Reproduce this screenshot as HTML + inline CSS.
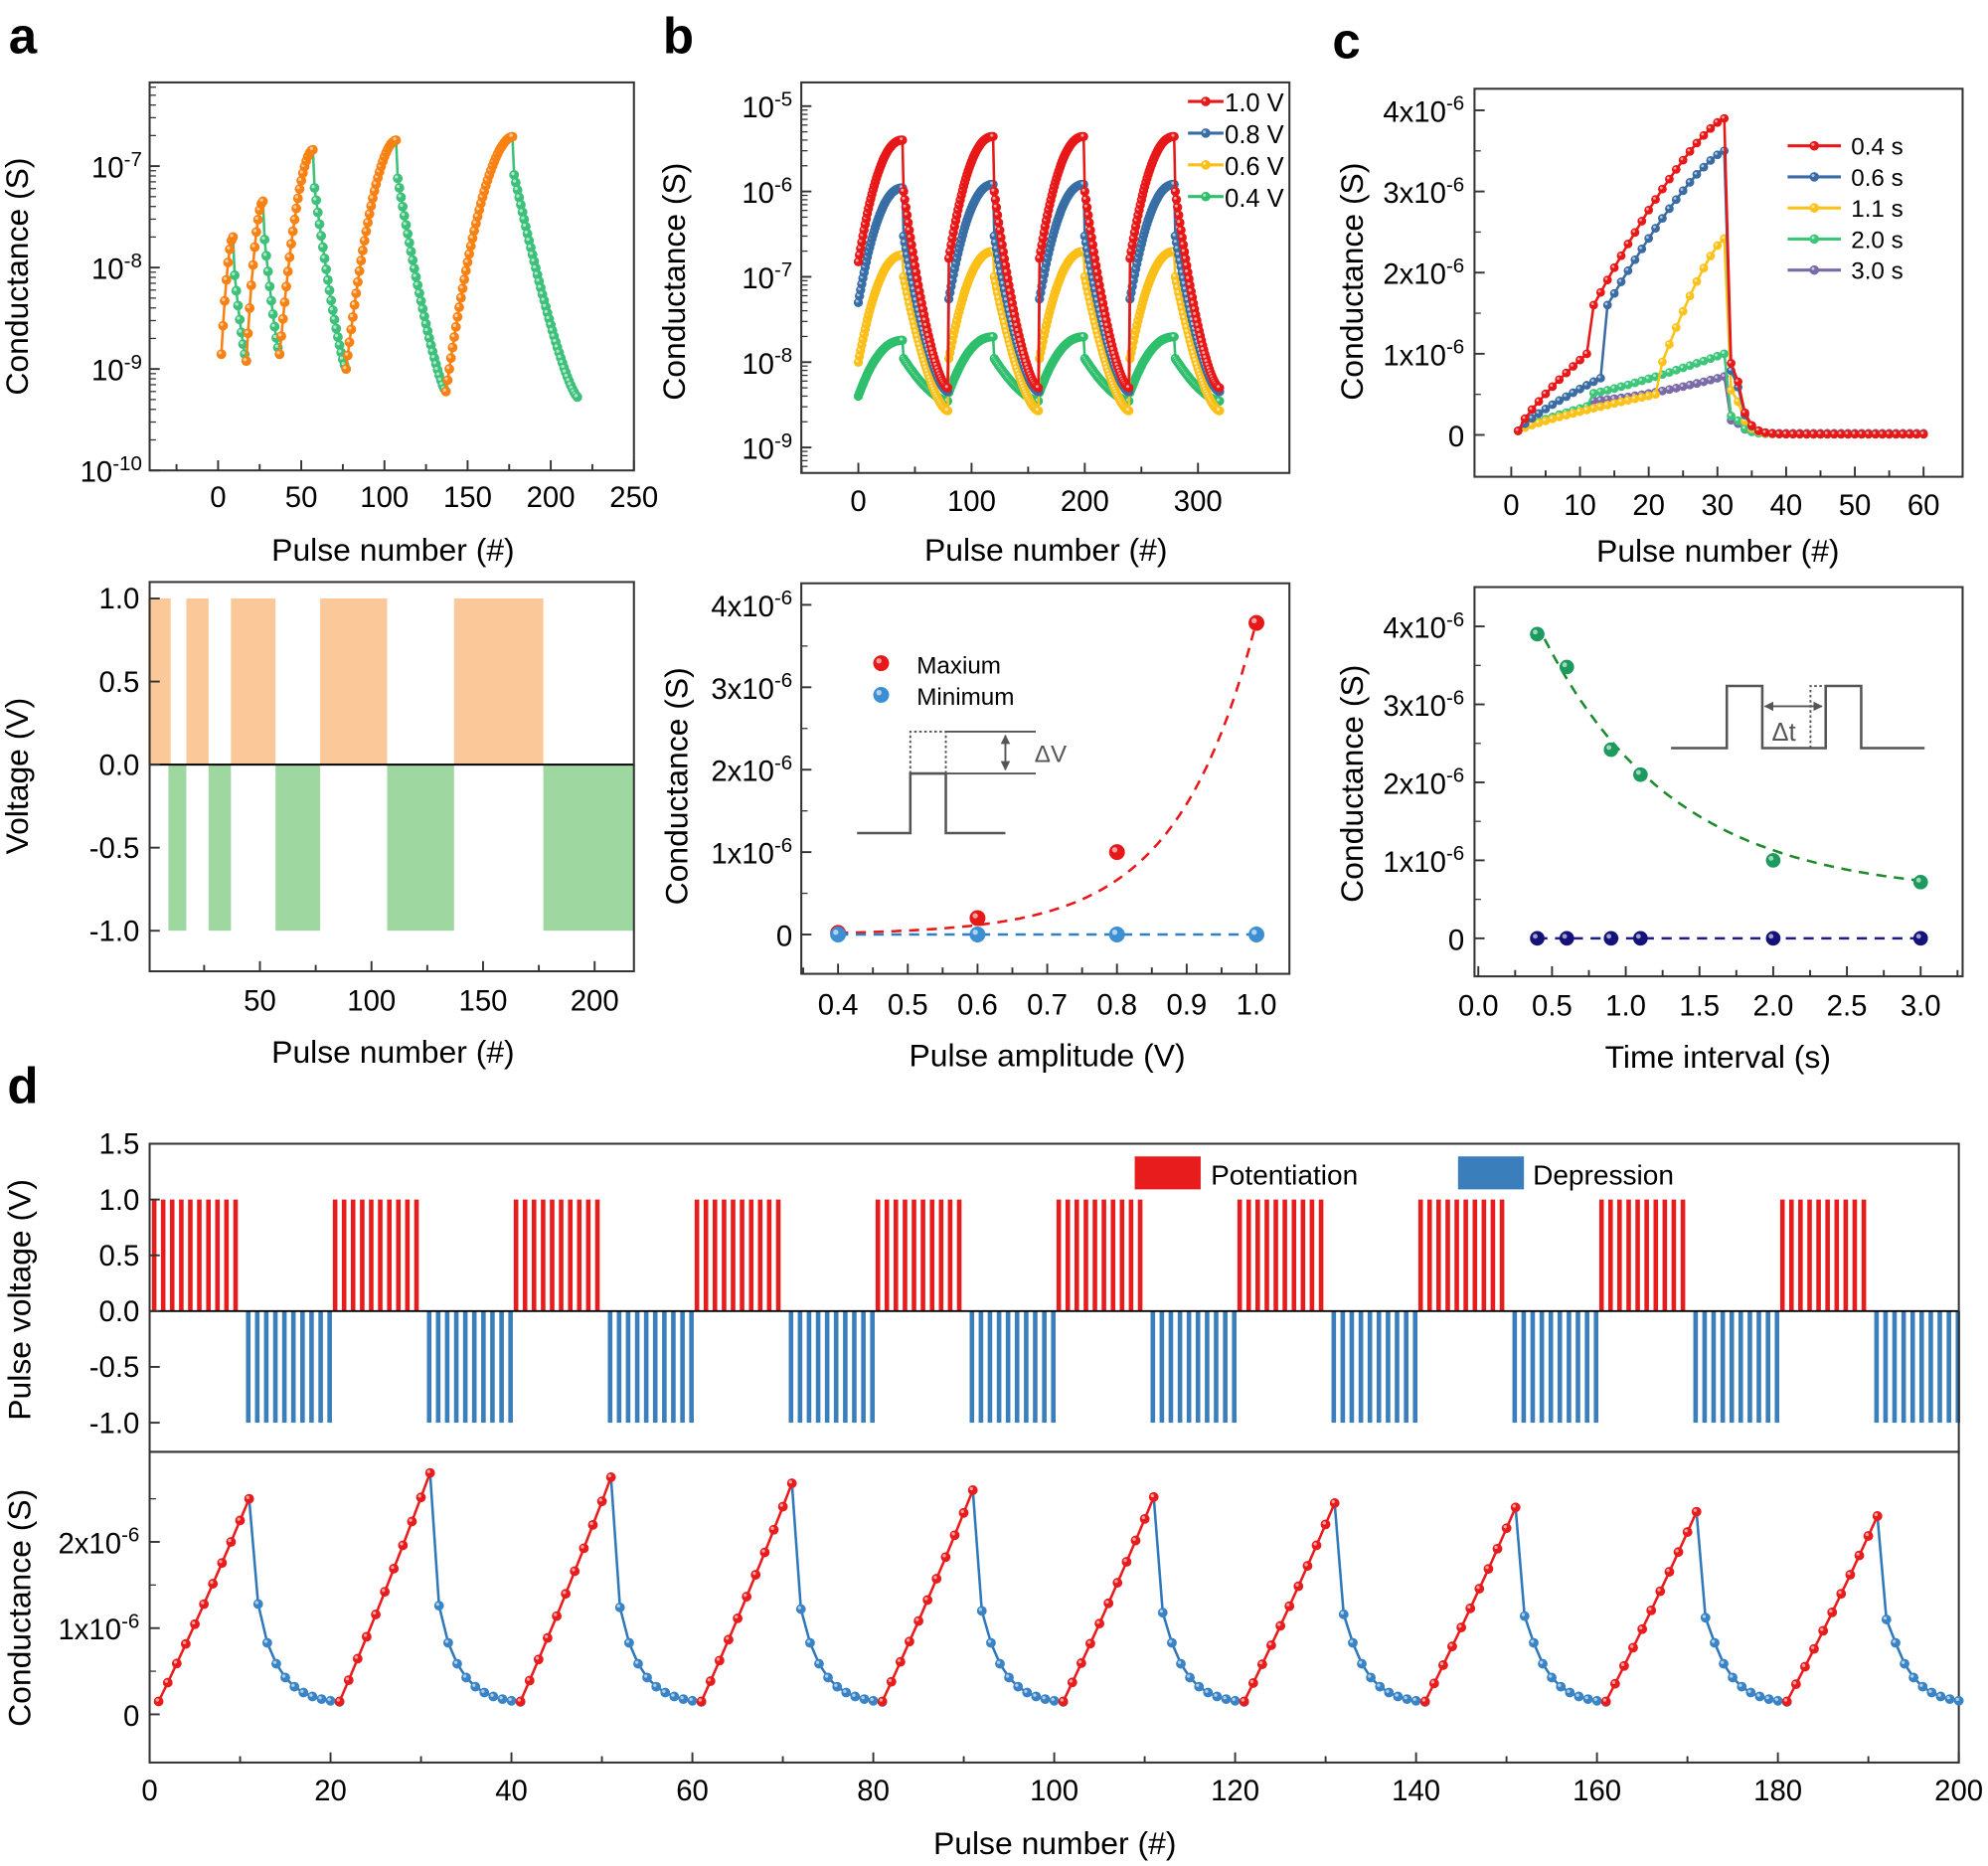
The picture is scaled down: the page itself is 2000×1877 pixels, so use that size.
<!DOCTYPE html>
<html><head><meta charset="utf-8"><style>
html,body{margin:0;padding:0;background:#fff}
svg{display:block}
text{font-family:"Liberation Sans",sans-serif;fill:#000}
</style></head><body>
<svg id="s" xmlns="http://www.w3.org/2000/svg" width="2000" height="1877" viewBox="0 0 1568 1471.6">
<rect width="1568" height="1472" fill="#fff"/>
</svg>
<script>
const S=document.getElementById('s');let H='';
const add=x=>H+=x;
function line(x1,y1,x2,y2,c,w,extra){add(`<line x1="${x1}" y1="${y1}" x2="${x2}" y2="${y2}" stroke="${c}" stroke-width="${w||1.5}" ${extra||''}/>`);}
function txt(x,y,t,sz,anc,extra){add(`<text x="${x}" y="${y}" font-size="${sz}" text-anchor="${anc||'middle'}" ${extra||''}>${t}</text>`);}
function box(x1,y1,x2,y2){add(`<rect x="${x1}" y="${y1}" width="${x2-x1}" height="${y2-y1}" fill="none" stroke="#333" stroke-width="1.6"/>`);}
function poly(pts,c,w,extra){add(`<polyline points="${pts.map(p=>p[0].toFixed(1)+','+p[1].toFixed(1)).join(' ')}" fill="none" stroke="${c}" stroke-width="${w||2}" ${extra||''}/>`);}
function dots(pts,c,r){pts.forEach(p=>add(`<circle cx="${p[0].toFixed(1)}" cy="${p[1].toFixed(1)}" r="${r||3.5}" fill="${c}" stroke="${c}" stroke-width="0.5"/><circle cx="${(p[0]-r*0.3).toFixed(1)}" cy="${(p[1]-r*0.3).toFixed(1)}" r="${(r*0.35).toFixed(1)}" fill="#fff" opacity="0.6"/>`));}
function sup(x,y,base,e,sz,anc){add(`<text x="${x}" y="${y}" font-size="${sz}" text-anchor="${anc||'end'}">${base}<tspan dy="-${sz*0.4}" font-size="${sz*0.7}">${e}</tspan></text>`);}
const FS=23,AT=25;

txt(18,42,'a',40,'middle','font-weight="bold"');
txt(535,42,'b',40,'middle','font-weight="bold"');
txt(1062,46,'c',40,'middle','font-weight="bold"');
txt(18,870,'d',40,'middle','font-weight="bold"');

{const X=v=>172+v*1.312,Y=v=>131-80*(Math.log10(v)+7);
box(118,65,500,371);
[0,50,100,150,200,250].forEach(v=>{line(X(v),371,X(v),363,'#333');txt(X(v),400,v,FS);});
[-25,25,75,125,175,225].forEach(v=>line(X(v),371,X(v),366,'#333'));
[-7,-8,-9,-10].forEach(e=>{const y=131-80*(e+7);line(118,y,126,y,'#333');sup(112,y+9,'10',e,FS);});
for(let d=-10;d<-6;d++)for(let k=2;k<10;k++){const y=Y(k*Math.pow(10,d));if(y>65)line(118,y,123,y,'#333',1);}
txt(310,442,'Pulse number (#)',AT);
txt(22,218,'Conductance (S)',AT,'middle','transform="rotate(-90 22 218)"');
const cyc=[[2,9,1.4e-9,2e-8,17,1.2e-9],[17,27,1.2e-9,4.5e-8,37,1.4e-9],[37,57,1.4e-9,1.45e-7,77,1e-9],[77,107,1e-9,1.8e-7,137,6e-10],[137,177,6e-10,1.95e-7,216,5.3e-10]];
cyc.forEach(c=>{const [a,b,lo,hi,e,end]=c;let up=[],dn=[];
for(let i=a;i<=b;i++){const t=(i-a)/(b-a);const f=1-Math.pow(1-t,1.8);up.push([X(i),Y(Math.pow(10,Math.log10(lo)+f*(Math.log10(hi)-Math.log10(lo))))]);}
const hd=hi*0.42;for(let i=b;i<=e;i++){if(i==b){dn.push([X(i),Y(hi)]);continue;}const t=(i-b-1)/(e-b-1);const f=1-Math.pow(1-t,1.3);dn.push([X(i),Y(Math.pow(10,Math.log10(hd)+f*(Math.log10(end)-Math.log10(hd))))]);}
poly(dn,'#3cc07a',2);dots(dn.slice(1),'#3cc07a',3.6);poly(up,'#f88113',2);dots(up,'#f88113',3.6);});
}
{const X=v=>117+v*1.76,Y=v=>603-v*131;
[[0,10],[17,27],[37,57],[77,107],[137,177]].forEach(r=>add(`<rect x="${X(r[0])}" y="${Y(1)}" width="${(r[1]-r[0])*1.76}" height="131" fill="#fbc899"/>`));
[[9,17],[27,37],[57,77],[107,137],[177,217.6]].forEach(r=>add(`<rect x="${X(r[0])}" y="${Y(0)}" width="${(r[1]-r[0])*1.76}" height="131" fill="#9ed8a0"/>`));
line(118,603,500,603,'#000',1.5);
box(118,459,500,766);
[50,100,150,200].forEach(v=>{line(X(v),766,X(v),758,'#333');txt(X(v),797,v,FS);});
[25,75,125,175].forEach(v=>line(X(v),766,X(v),761,'#333'));
[1,0.5,0,-0.5,-1].forEach(v=>{line(118,Y(v),126,Y(v),'#333');txt(110,Y(v)+8,v.toFixed(1),FS,'end');});
txt(310,838,'Pulse number (#)',AT);
txt(22,612,'Voltage (V)',AT,'middle','transform="rotate(-90 22 612)"');
}
{const X=v=>677+v*0.893,Y=v=>151-67.3*(Math.log10(v)+6);
box(632,65,1017,373);
[0,100,200,300].forEach(v=>{line(X(v),373,X(v),365,'#333');txt(X(v),403,v,FS);});
[-50,50,150,250].forEach(v=>line(X(v),373,X(v),368,'#333'));
[-5,-6,-7,-8,-9].forEach(e=>{const y=151-67.3*(e+6);line(632,y,640,y,'#333');sup(625,y+9,'10',e,FS);});
for(let d=-10;d<-4;d++)for(let k=2;k<10;k++){const y=Y(k*Math.pow(10,d));if(y>65&&y<373)line(632,y,637,y,'#333',1);}
txt(825,442,'Pulse number (#)',AT);
txt(540,222,'Conductance (S)',AT,'middle','transform="rotate(-90 540 222)"');
const ser=[['#2fbf6d',4e-9,1.8e-8,1.1e-8,3.5e-9],['#fbbf18',1e-8,1.8e-7,1e-7,2.7e-9],['#386ea5',5e-8,1.1e-6,3e-7,4.5e-9],['#e81818',1.5e-7,4e-6,1e-6,5e-9]];
ser.forEach(s=>{const [c,st,pk,d1,mn]=s;let pts=[];
for(let k=0;k<4;k++){for(let i=0;i<40;i++){const t=i/39;const f=1-Math.pow(1-t,2.2);pts.push([X(k*80+i),Y(Math.pow(10,Math.log10(k==0?st:st*1.1)+f*(Math.log10(pk)-Math.log10(st))))]);}
for(let i=0;i<40;i++){const t=i/39;const f=1-Math.pow(1-t,1.6);pts.push([X(k*80+40+i),Y(Math.pow(10,Math.log10(d1)+f*(Math.log10(mn)-Math.log10(d1))))]);}}
poly(pts,c,2);dots(pts,c,3.4);});
const lg=[['#e81818','1.0 V'],['#386ea5','0.8 V'],['#fbbf18','0.6 V'],['#2fbf6d','0.4 V']];
lg.forEach((l,i)=>{const y=80+i*25;line(937,y,965,y,l[0],2.5);dots([[951,y]],l[0],3.5);txt(966,y+8,l[1],20,'start');});
}
{const X=v=>661+(v-0.4)*550,Y=v=>737-65*v;
box(632,460,1017,768);
[0.4,0.5,0.6,0.7,0.8,0.9,1.0].forEach(v=>{line(X(v),768,X(v),760,'#333');txt(X(v),800,v.toFixed(1),FS);});
[0.35,0.45,0.55,0.65,0.75,0.85,0.95].forEach(v=>line(X(v),768,X(v),763,'#333'));
[0,1,2,3,4].forEach(v=>{line(632,Y(v),640,Y(v),'#333');if(v)sup(625,Y(v)+9,v+'x10','-6',FS);else txt(625,Y(0)+9,'0',FS,'end');});
[0.5,1.5,2.5,3.5].forEach(v=>line(632,Y(v),637,Y(v),'#333',1));
txt(826,841,'Pulse amplitude (V)',AT);
txt(542,620,'Conductance (S)',AT,'middle','transform="rotate(-90 542 620)"');
let cp=[];for(let v=0.4;v<=1.001;v+=0.01){cp.push([X(v),Y(0.02*Math.exp((v-0.4)*8.745))]);}
poly(cp,'#e81818',2,'stroke-dasharray="8 6"');
line(X(0.4),Y(0),X(1),Y(0),'#2f7fc1',2,'stroke-dasharray="8 6"');
dots([[X(0.4),Y(0.02)],[X(0.6),Y(0.2)],[X(0.8),Y(1)],[X(1),Y(3.78)]],'#e81818',6);
dots([0.4,0.6,0.8,1].map(v=>[X(v),Y(0)]),'#3d8fd3',6);
dots([[695,523]],'#e81818',6);txt(723,531,'Maxium',19,'start');
dots([[695,548]],'#3d8fd3',6);txt(723,556,'Minimum',19,'start');
add('<polyline points="676,657 718,657 718,610 746,610 746,657 793,657" fill="none" stroke="#555" stroke-width="2"/>');
add('<polyline points="718,610 718,577 746,577 746,657" fill="none" stroke="#555" stroke-width="1.5" stroke-dasharray="2 2"/>');
line(746,577,817,577,'#555',1.5);line(746,610,817,610,'#555',1.5);
line(793,580,793,607,'#555',1.5,'marker-start="url(#ah)" marker-end="url(#ah)"');
txt(816,601,'ΔV',19,'start','style="fill:#555"');
}
{const X=v=>1192+v*5.42,Y=v=>343-64*v;
box(1163,70,1548,376);
[0,10,20,30,40,50,60].forEach(v=>{line(X(v),376,X(v),368,'#333');txt(X(v),406,v,FS);});
[5,15,25,35,45,55].forEach(v=>line(X(v),376,X(v),371,'#333'));
[0,1,2,3,4].forEach(v=>{line(1163,Y(v),1171,Y(v),'#333');if(v)sup(1155,Y(v)+9,v+'x10','-6',FS);else txt(1155,Y(0)+9,'0',FS,'end');});
[0.5,1.5,2.5,3.5].forEach(v=>line(1163,Y(v),1168,Y(v),'#333',1));
txt(1355,443,'Pulse number (#)',AT);
txt(1075,222,'Conductance (S)',AT,'middle','transform="rotate(-90 1075 222)"');
const cs=[['#7a6aa8',0.33,0.45,0.72,11],['#3dc67a',0.35,0.5,1.0,11],['#fbc31a',0.5,0.9,2.42,21],['#3a6ba3',0.7,1.6,3.5,13],['#e81818',1.0,1.6,3.9,11]];
cs.forEach(s=>{const [c,a1,a2,pk,jump]=s;let pts=[];
for(let i=1;i<=60;i++){let v;
if(i<=jump)v=0.05+(a1-0.05)*Math.pow((i-1)/(jump-1),0.8);
else if(i<=31){const t=(i-jump-1)/(31-jump-1);v=a2+(pk-a2)*(1-Math.pow(1-t,1.3));if(i==jump+1)v=a2;}
else{const t=i-31;v=(c=='#7a6aa8'?0.02:0.01)+pk*Math.exp(-t*0.9)*(t==1?0.55:1);}
if(c=='#7a6aa8'&&i<=31&&i>jump)v=0.42+(pk-0.42)*Math.pow((i-jump)/(31-jump),1.5);
if(c=='#3dc67a'&&i<=31&&i>jump)v=0.5+(pk-0.5)*Math.pow((i-jump)/(31-jump),1.2);
pts.push([X(i),Y(v)]);}
poly(pts,c,2);dots(pts,c,3.2);});
const lg=[['#e81818','0.4 s'],['#3a6ba3','0.6 s'],['#fbc31a','1.1 s'],['#3dc67a','2.0 s'],['#7a6aa8','3.0 s']];
lg.forEach((l,i)=>{const y=115+i*24.5;line(1410,y,1452,y,l[0],2.5);dots([[1431,y]],l[0],3.5);txt(1460,y+7,l[1],19,'start');});
}
{const X=v=>1166+v*116.3,Y=v=>740-61.5*v;
box(1163,463,1548,770);
[0,0.5,1,1.5,2,2.5,3].forEach(v=>{line(X(v),770,X(v),762,'#333');txt(X(v),801,v.toFixed(1),FS);});
[0.25,0.75,1.25,1.75,2.25,2.75,3.25].forEach(v=>line(X(v),770,X(v),765,'#333'));
[0,1,2,3,4].forEach(v=>{line(1163,Y(v),1171,Y(v),'#333');if(v)sup(1155,Y(v)+9,v+'x10','-6',FS);else txt(1155,Y(0)+9,'0',FS,'end');});
[0.5,1.5,2.5,3.5].forEach(v=>line(1163,Y(v),1168,Y(v),'#333',1));
txt(1355,842,'Time interval (s)',AT);
txt(1075,618,'Conductance (S)',AT,'middle','transform="rotate(-90 1075 618)"');
let cp=[];for(let v=0.45;v<=3.001;v+=0.02)cp.push([X(v),Y(0.55+4.6*Math.exp(-(v-0.15)*1.12))]);
poly(cp,'#1d8a2c',2,'stroke-dasharray="8 6"');
line(X(0.4),Y(0),X(3),Y(0),'#1a1a8a',2,'stroke-dasharray="8 6"');
const xs=[0.4,0.6,0.9,1.1,2,3],ys=[3.9,3.48,2.42,2.1,1.0,0.72];
dots(xs.map((v,i)=>[X(v),Y(ys[i])]),'#1d9a5e',5.5);
dots(xs.map(v=>[X(v),Y(0)]),'#14127a',5.5);
add('<polyline points="1318,590 1362,590 1362,541 1390,541 1390,590 1440,590 1440,541 1468,541 1468,590 1518,590" fill="none" stroke="#555" stroke-width="2"/>');
add('<polyline points="1428,590 1428,541 1440,541 M1455,541 1455,590 1495,590" fill="none" stroke="#555" stroke-width="1.5" stroke-dasharray="2 2"/>');
line(1392,557,1437,557,'#555',1.5,'marker-start="url(#ah)" marker-end="url(#ah)"');
txt(1407,584,'Δt',20,'middle','style="fill:#555"');
}
{const X=v=>118+v*7.135,Yt=v=>1034-88*v,Yb=v=>1352-68*v;
for(let g=0;g<10;g++){for(let i=0;i<10;i++){const xr=X(g*20+i+0.5),xb=X(g*20+10+i+0.9);
add(`<rect x="${(xr-1.8).toFixed(1)}" y="${Yt(1)}" width="3.6" height="88" fill="#e81c1c"/>`);
add(`<rect x="${(xb-1.8).toFixed(1)}" y="${Yt(0)}" width="3.6" height="88" fill="#3a7ebb"/>`);}}
line(118,Yt(0),1545,Yt(0),'#000',1.5);
box(118,902,1545,1145);box(118,1145,1545,1390);
[1.5,1,0.5,0,-0.5,-1].forEach(v=>{line(118,Yt(v),126,Yt(v),'#333');txt(110,Yt(v)+8,v.toFixed(1),FS,'end');});
add('<rect x="895" y="912" width="52" height="26" fill="#e81c1c"/>');txt(955,934,'Potentiation',22,'start');
add('<rect x="1150" y="912" width="52" height="26" fill="#3a7ebb"/>');txt(1209,934,'Depression',22,'start');
txt(24,1025,'Pulse voltage (V)',AT,'middle','transform="rotate(-90 24 1025)"');
for(let v=0;v<=200;v+=20){line(X(v),1390,X(v),1382,'#333');txt(X(v),1420,v,FS);}
for(let v=10;v<200;v+=20)line(X(v),1390,X(v),1385,'#333');
[0,1,2].forEach(v=>{line(118,Yb(v),126,Yb(v),'#333');if(v)sup(110,Yb(v)+9,v+'x10','-6',FS);else txt(110,Yb(0)+9,'0',FS,'end');});
[0.5,1.5,2.5].forEach(v=>line(118,Yb(v),123,Yb(v),'#333',1));
txt(832,1462,'Pulse number (#)',AT);
txt(24,1268,'Conductance (S)',AT,'middle','transform="rotate(-90 24 1268)"');
const pk=[2.5,2.8,2.75,2.68,2.6,2.52,2.45,2.4,2.35,2.3];
for(let g=0;g<10;g++){const b=g*20;const st=0.15;let up=[],dn=[];
for(let i=1;i<=11;i++){const t=(i-1)/10;up.push([X(b+i),Yb(st+(pk[g]-st)*(t*0.92+0.08*t*t))]);}
for(let i=11;i<=21;i++){if(b+i>200)break;const t=i-11;const v=i==11?pk[g]:0.12+1.08*Math.exp(-(t-1)*0.42);dn.push([X(b+i),Yb(i==12?1.28-(g*0.02):v)]);}
poly(dn,'#2f78bc',2);dots(dn.slice(1),'#3a84c6',3.6);poly(up,'#e81c1c',2);dots(up,'#e81c1c',3.6);}
}
S.innerHTML+='<defs><marker id="ah" viewBox="0 0 10 10" refX="9" refY="5" markerWidth="5" markerHeight="5" orient="auto-start-reverse"><path d="M0,0L10,5L0,10z" fill="#555"/></marker></defs>'+H;
</script>
</body></html>
